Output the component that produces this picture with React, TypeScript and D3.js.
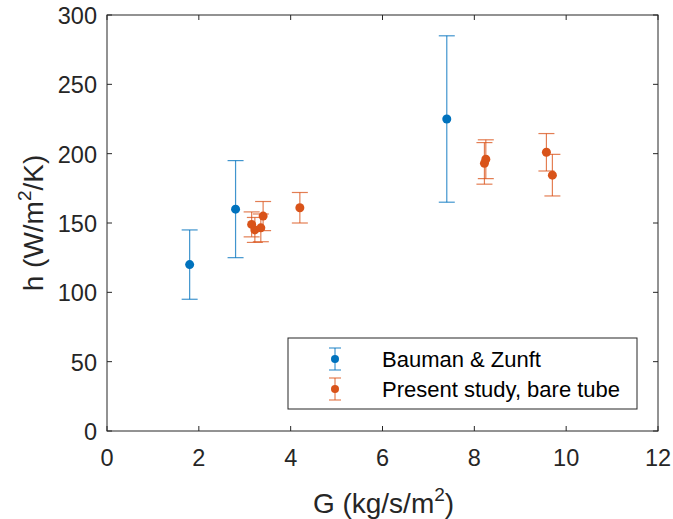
import React, { useEffect, useRef } from 'react'
import * as d3 from 'd3'

type Pt = { g: number, h: number, err: number }

// Bauman & Zunft
const baumanG = [1.8, 2.8, 7.4]
const baumanH = [120, 160, 225]
const baumanErr = [25, 35, 60]

// Present study, bare tube
const studyG = [3.15, 3.22, 3.35, 3.4, 4.2, 8.22, 8.25, 9.57, 9.7]
const studyH = [149, 145, 146.5, 155, 161, 193, 196, 201, 184.5]
const studyErr = [9, 9, 10, 10.5, 11, 15, 14, 13.5, 15]

const xTicks = [0, 2, 4, 6, 8, 10, 12]
const yTicks = [0, 50, 100, 150, 200, 250, 300]

const BLUE = '#0072BD'
const ORANGE = '#D95319'
const AXIS = '#262626'
const FONT = '"Liberation Sans", Arial, Helvetica, sans-serif'

const zip = (g: number[], h: number[], e: number[]): Pt[] => g.map((v, i) => ({ g: v, h: h[i], err: e[i] }))

export default function App() {
    const ref = useRef<SVGSVGElement>(null)

    useEffect(() => {
        const svg = d3.select(ref.current)
        svg.selectAll('*').remove()

        const left = 107, right = 658, top = 15, bottom = 431
        const x = d3.scaleLinear().domain([0, 12]).range([left, right])
        const y = d3.scaleLinear().domain([0, 300]).range([bottom, top])

        const g = svg.append('g')

        // box
        g.append('rect')
            .attr('x', left).attr('y', top)
            .attr('width', right - left).attr('height', bottom - top)
            .attr('fill', 'white').attr('stroke', AXIS).attr('stroke-width', 1)

        // ticks (inward, on all sides)
        const tl = 5
        xTicks.forEach(t => {
            g.append('line').attr('x1', x(t)).attr('x2', x(t)).attr('y1', bottom).attr('y2', bottom - tl).attr('stroke', AXIS)
            g.append('line').attr('x1', x(t)).attr('x2', x(t)).attr('y1', top).attr('y2', top + tl).attr('stroke', AXIS)
            g.append('text').attr('x', x(t)).attr('y', bottom + 35)
                .attr('text-anchor', 'middle').attr('font-family', FONT).attr('font-size', 23.5).attr('fill', AXIS)
                .text(t)
        })
        yTicks.forEach(t => {
            g.append('line').attr('y1', y(t)).attr('y2', y(t)).attr('x1', left).attr('x2', left + tl).attr('stroke', AXIS)
            g.append('line').attr('y1', y(t)).attr('y2', y(t)).attr('x1', right).attr('x2', right - tl).attr('stroke', AXIS)
            g.append('text').attr('x', left - 10).attr('y', y(t) + 9)
                .attr('text-anchor', 'end').attr('font-family', FONT).attr('font-size', 23.5).attr('fill', AXIS)
                .text(t)
        })

        // axis labels
        const xl = g.append('text').attr('x', (left + right) / 2 + 1).attr('y', 513)
            .attr('text-anchor', 'middle').attr('font-family', FONT).attr('font-size', 28).attr('fill', AXIS)
        xl.append('tspan').text('G (kg/s/m')
        xl.append('tspan').attr('dy', -12).attr('font-size', 19).text('2')
        xl.append('tspan').attr('dy', 12).text(')')

        const yl = g.append('text')
            .attr('transform', `translate(43,${(top + bottom) / 2}) rotate(-90)`)
            .attr('text-anchor', 'middle').attr('font-family', FONT).attr('font-size', 28).attr('fill', AXIS)
        yl.append('tspan').text('h (W/m')
        yl.append('tspan').attr('dy', -12).attr('font-size', 19).text('2')
        yl.append('tspan').attr('dy', 12).text('/K)')

        const cap = 8
        const drawSeries = (data: Pt[], color: string) => {
            const s = g.append('g')
            data.forEach(d => {
                const cx = x(d.g)
                s.append('line').attr('x1', cx).attr('x2', cx).attr('y1', y(d.h - d.err)).attr('y2', y(d.h + d.err))
                    .attr('stroke', color).attr('stroke-width', 1.2).attr('stroke-opacity', 0.75)
                    ;[d.h - d.err, d.h + d.err].forEach(v => {
                        s.append('line').attr('x1', cx - cap).attr('x2', cx + cap).attr('y1', y(v)).attr('y2', y(v))
                            .attr('stroke', color).attr('stroke-width', 1.2).attr('stroke-opacity', 0.75)
                    })
            })
            s.selectAll('circle').data(data).enter().append('circle')
                .attr('cx', d => x(d.g)).attr('cy', d => y(d.h)).attr('r', 4.5).attr('fill', color)
        }
        drawSeries(zip(baumanG, baumanH, baumanErr), BLUE)
        drawSeries(zip(studyG, studyH, studyErr), ORANGE)

        // legend
        const lx = 288, ly = 338, lw = 349, lh = 71
        g.append('rect').attr('x', lx).attr('y', ly).attr('width', lw).attr('height', lh)
            .attr('fill', 'white').attr('stroke', AXIS).attr('stroke-width', 1)
        const entries = [{ label: 'Bauman & Zunft', color: BLUE }, { label: 'Present study, bare tube', color: ORANGE }]
        entries.forEach((e, i) => {
            const cy = 359 + i * 30
            const mx = 335
            const le = g.append('g')
            le.append('line').attr('x1', mx).attr('x2', mx).attr('y1', cy - 11).attr('y2', cy + 11)
                .attr('stroke', e.color).attr('stroke-width', 1.2).attr('stroke-opacity', 0.75)
                ;[cy - 11, cy + 11].forEach(v => {
                    le.append('line').attr('x1', mx - 6).attr('x2', mx + 6).attr('y1', v).attr('y2', v)
                        .attr('stroke', e.color).attr('stroke-width', 1.2).attr('stroke-opacity', 0.75)
                })
            le.append('circle').attr('cx', mx).attr('cy', cy).attr('r', 4).attr('fill', e.color)
            le.append('text').attr('x', 382).attr('y', cy + 8)
                .attr('font-family', FONT).attr('font-size', 22).attr('fill', '#000')
                .text(e.label)
        })
    }, [])

    return (
        <svg ref={ref} width={673} height={519}
            style={{ position: 'absolute', left: 0, top: 0, background: 'white' }} />
    )
}
